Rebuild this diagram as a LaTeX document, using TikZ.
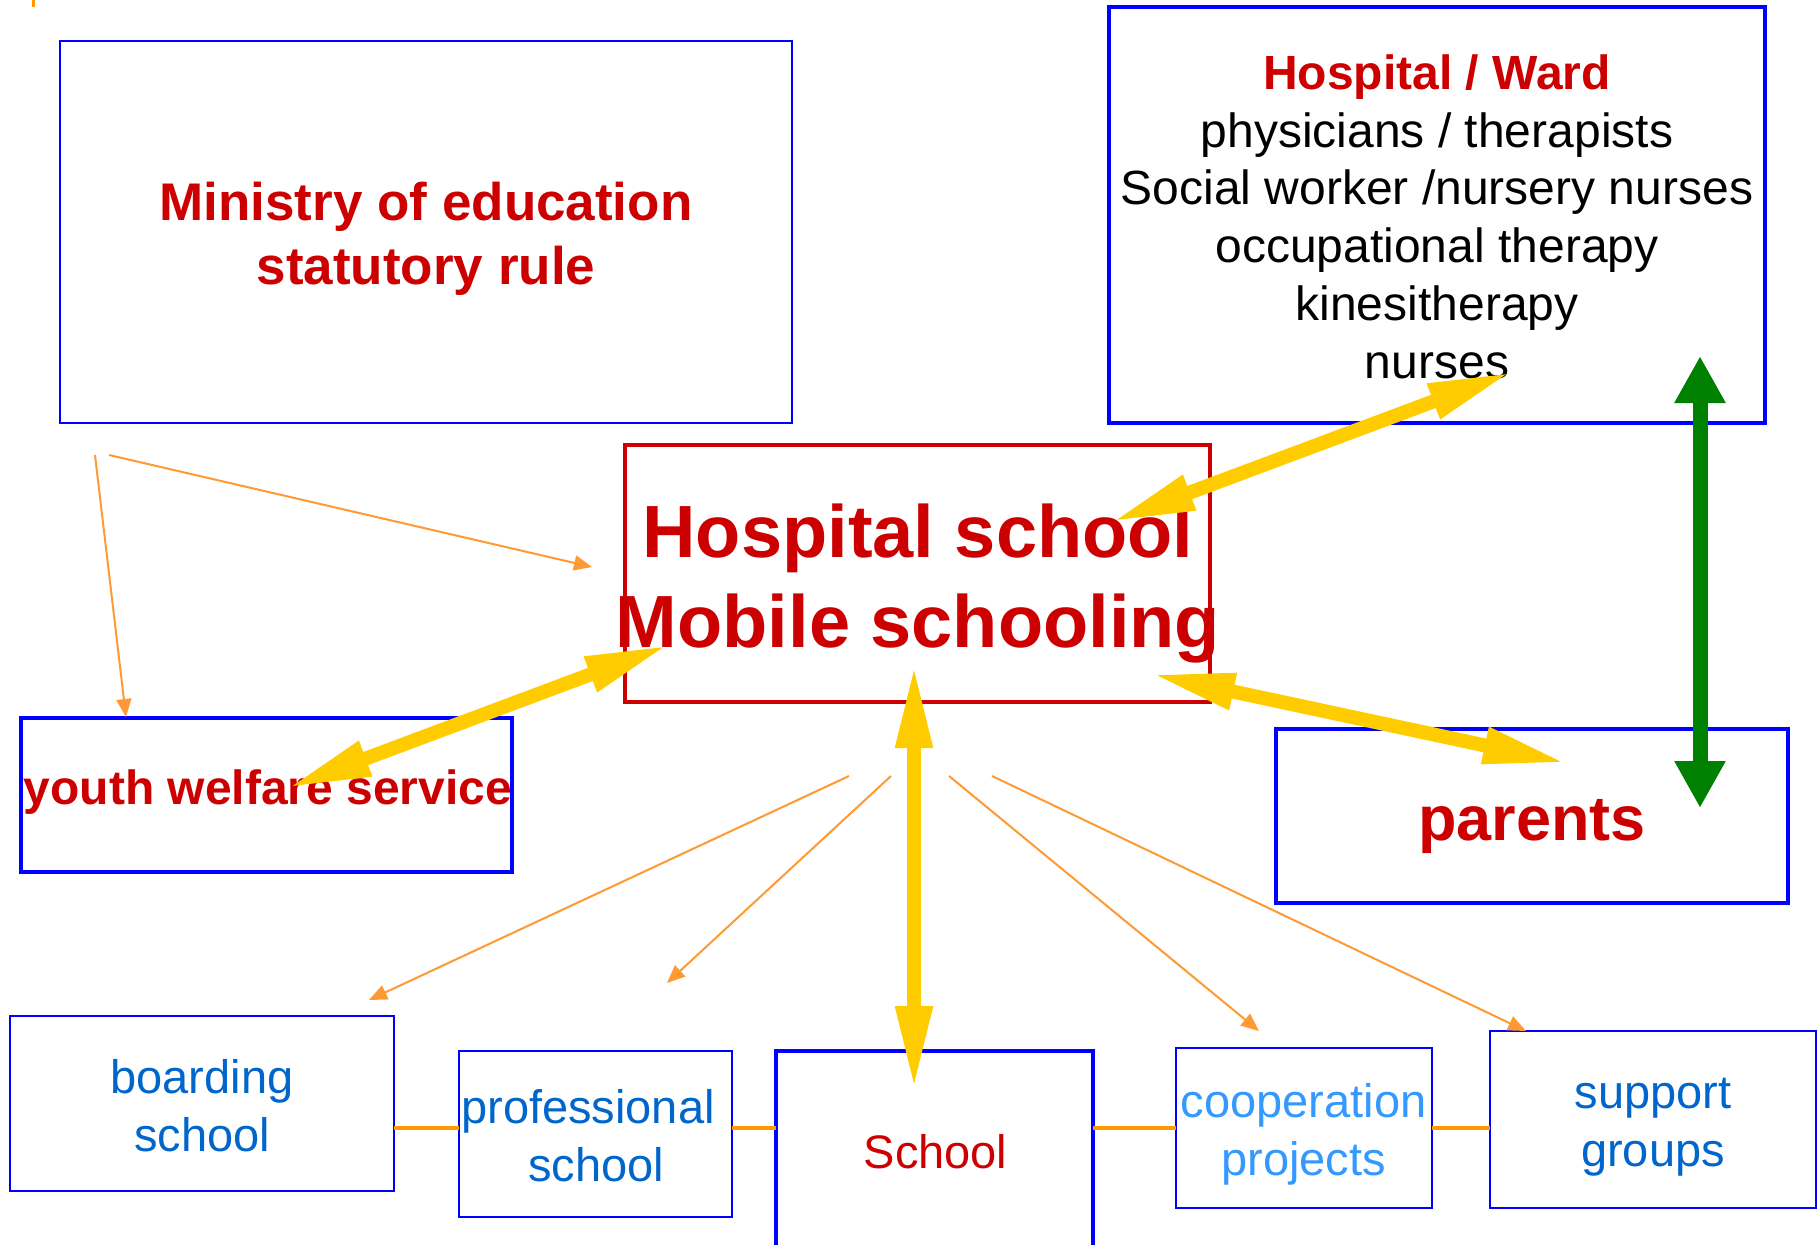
\documentclass[tikz,border=0pt]{standalone}
\usepackage{fontspec}
\setmainfont{Liberation Sans}
\usetikzlibrary{arrows.meta}
\definecolor{cred}{HTML}{CC0000}
\definecolor{cblue}{HTML}{0000FF}
\definecolor{tblue}{HTML}{0066CC}
\definecolor{lblue}{HTML}{3399FF}
\definecolor{cyell}{HTML}{FFCC00}
\definecolor{corng}{HTML}{FF9933}
\definecolor{corngb}{HTML}{FF9900}
\definecolor{cgreen}{HTML}{008000}
\begin{document}
\begin{tikzpicture}[x=1pt,y=-1pt,
  boxst/.style={draw=cblue, line width=#1, inner sep=0pt, outer sep=0pt},
  redbox/.style={draw=cred, line width=#1, inner sep=0pt, outer sep=0pt},
  txt/.style={inner sep=0pt, outer sep=0pt, anchor=base},
  bigred/.style={txt, text=cred, font=\fontsize{#1}{#1}\selectfont\bfseries},
  plain/.style={txt, text=#1, font=\fontsize{47}{47}\selectfont},
  wardline/.style={txt, text=black, font=\fontsize{48}{48}\selectfont},
  oline/.style={draw=corngb, line width=4pt},
  oarrow/.style={draw=corng, line width=2pt, -{Triangle[length=18pt,width=15pt]}},
  yarrow/.style={draw=cyell, line width=14pt, {Triangle[length=84pt,width=34pt]}-{Triangle[length=84pt,width=34pt]}},
  garrow/.style={draw=cgreen, line width=15pt, {Triangle[length=47pt,width=48pt]}-{Triangle[length=47pt,width=48pt]}}
]
\useasboundingbox (0,0) rectangle (1819,1244);
\begin{scope}
\clip (0,0) rectangle (1819,1244);

% small orange tick at top left
\coordinate (tickA) at (33,0);
\coordinate (tickB) at (33,7);
\draw[draw=corngb, line width=3pt] (tickA) -- (tickB);

% boxes
\node[boxst=2pt, minimum width=732pt, minimum height=382pt] (min) at (426,232) {};
\node[boxst=3.5pt, minimum width=656pt, minimum height=416pt] (ward) at (1437,215) {};
\node[redbox=3.5pt, minimum width=585pt, minimum height=257pt] (hs) at (917.5,573.5) {};
\node[boxst=3.5pt, minimum width=491pt, minimum height=154pt] (youth) at (266.5,795) {};
\node[boxst=3.5pt, minimum width=512pt, minimum height=174pt] (par) at (1532,816) {};
\node[boxst=2pt, minimum width=384pt, minimum height=175pt] (board) at (202,1103.5) {};
\node[boxst=2pt, minimum width=273pt, minimum height=166pt] (prof) at (595.5,1134) {};
\node[boxst=4pt, minimum width=317pt, minimum height=229pt] (school) at (934.5,1165.5) {};
\node[boxst=2pt, minimum width=256pt, minimum height=160pt] (coop) at (1304,1128) {};
\node[boxst=2pt, minimum width=326pt, minimum height=177pt] (supp) at (1653,1119.5) {};

% texts
\node[bigred=53] (minA) at (426,220) {Ministry of education};
\node[bigred=53] (minB) at (426,284) {statutory rule};

\node[bigred=48] (wardA) at (1437,90) {Hospital / Ward};
\node[wardline] (wardB) at (1437,147) {physicians / therapists};
\node[wardline] (wardC) at (1437,204) {Social worker /nursery nurses};
\node[wardline] (wardD) at (1437,262) {occupational therapy};
\node[wardline] (wardE) at (1437,320) {kinesitherapy};
\node[wardline] (wardF) at (1437,378) {nurses};

\node[bigred=74] (hsA) at (918,557) {Hospital school};
\node[bigred=74] (hsB) at (918,647) {Mobile schooling};

\node[bigred=48] (youthT) at (268,804) {youth welfare service};
\node[bigred=63] (parT) at (1532,840) {parents};

\node[plain=tblue] (boardA) at (202,1093) {boarding};
\node[plain=tblue] (boardB) at (202,1151) {school};
\node[plain=tblue] (profA) at (588,1123) {professional};
\node[plain=tblue] (profB) at (596,1181) {school};
\node[plain=cred] (schoolT) at (935.5,1168) {School};
\node[plain=lblue] (coopA) at (1303.5,1117) {cooperation};
\node[plain=lblue] (coopB) at (1303.5,1175) {projects};
\node[plain=tblue] (suppA) at (1653,1108) {support};
\node[plain=tblue] (suppB) at (1653,1166) {groups};

% orange connectors between bottom boxes
\coordinate (rowy) at (0,1128);
\draw[oline] (board.east |- rowy) -- (prof.west |- rowy);
\draw[oline] (prof.east |- rowy) -- (school.west |- rowy);
\draw[oline] (school.east |- rowy) -- (coop.west |- rowy);
\draw[oline] (coop.east |- rowy) -- (supp.west |- rowy);

% thin orange arrows
\coordinate (m1) at (95,455);
\coordinate (m2) at (109,455);
\coordinate (y1) at (126,717);
\coordinate (h1) at (592,567);
\draw[oarrow] (m1) -- (y1);
\draw[oarrow] (m2) -- (h1);

\coordinate (s1) at (849,776);
\coordinate (s2) at (891,776);
\coordinate (s3) at (949,776);
\coordinate (s4) at (992,776);
\coordinate (t1) at (369,1000);
\coordinate (t2) at (667,983);
\coordinate (t3) at (1259,1031);
\coordinate (t4) at (1526,1031);
\draw[oarrow] (s1) -- (t1);
\draw[oarrow] (s2) -- (t2);
\draw[oarrow] (s3) -- (t3);
\draw[oarrow] (s4) -- (t4);

% yellow double arrows
\coordinate (hsW) at (1111,522);
\coordinate (wardE1) at (1512,372);
\draw[yarrow] (hsW) -- (wardE1);
\coordinate (youthE) at (287,788);
\coordinate (hsY) at (669,645);
\draw[yarrow] (youthE) -- (hsY);
\coordinate (hsP) at (1151,674);
\coordinate (parE) at (1567,763);
\draw[yarrow] (hsP) -- (parE);
\coordinate (hsS) at (914,664);
\coordinate (schoolE) at (914,1090);
\draw[yarrow] (hsS) -- (schoolE);

% green double arrow
\coordinate (gTop) at (1700,356);
\coordinate (gBot) at (1700,808);
\draw[garrow] (gTop) -- (gBot);
\end{scope}
\end{tikzpicture}
\end{document}
